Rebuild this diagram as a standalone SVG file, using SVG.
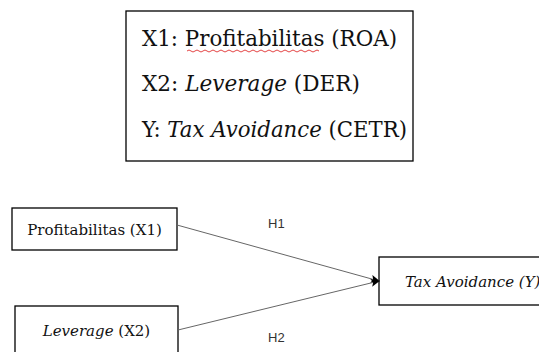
<svg xmlns="http://www.w3.org/2000/svg" width="539" height="352" viewBox="0 0 539 352">
<style>
.box{fill:#fff;stroke:#000;stroke-width:1.3}
.legend{font-family:"DejaVu Serif","Liberation Serif",serif;font-size:22px;fill:#111}
.node{font-family:"DejaVu Serif","Liberation Serif",serif;font-size:15px;fill:#111}
.lab{font-family:"Liberation Sans",Arial,sans-serif;font-size:13px;fill:#333}
.edge{stroke:#666;stroke-width:1;fill:none}
</style>
<defs>
<marker id="arr" markerWidth="9" markerHeight="8" refX="8" refY="4" orient="auto" markerUnits="userSpaceOnUse">
<path d="M0,0 L9,4 L0,8 L2,4 Z" fill="#000"/>
</marker>
</defs>
<g id="legend">
<rect class="box" x="126" y="11" width="287" height="150"/>
<text class="legend" x="142" y="46" textLength="255" lengthAdjust="spacingAndGlyphs">X1: Profitabilitas (ROA)</text>
<path d="M187,51 q2,-2 4,0 t4,0 t4,0 t4,0 t4,0 t4,0 t4,0 t4,0 t4,0 t4,0 t4,0 t4,0 t4,0 t4,0 t4,0 t4,0 t4,0 t4,0 t4,0 t4,0 t4,0 t4,0 t4,0 t4,0 t4,0 t4,0 t4,0 t4,0 t4,0 t4,0 t4,0 t4,0 t4,0" fill="none" stroke="#e03030" stroke-width="0.9"/>
<text class="legend" x="142" y="91" textLength="218" lengthAdjust="spacingAndGlyphs">X2: <tspan font-style="italic">Leverage</tspan> (DER)</text>
<text class="legend" x="142" y="137" textLength="265" lengthAdjust="spacingAndGlyphs">Y: <tspan font-style="italic">Tax Avoidance</tspan> (CETR)</text>
</g>
<g id="x1">
<rect class="box" x="12" y="208" width="165" height="42"/>
<text class="node" x="94.5" y="235" text-anchor="middle">Profitabilitas (X1)</text>
</g>
<g id="x2">
<rect class="box" x="15" y="306" width="163" height="50"/>
<text class="node" x="96.5" y="336" text-anchor="middle"><tspan font-style="italic">Leverage</tspan> (X2)</text>
</g>
<g id="y">
<rect class="box" x="379" y="257" width="170" height="48"/>
<text class="node" x="405" y="287" font-style="italic">Tax Avoidance (Y)</text>
</g>
<g id="connectors">
<line class="edge" x1="177" y1="225" x2="379" y2="281" marker-end="url(#arr)"/>
<line class="edge" x1="178" y1="330" x2="379" y2="281" marker-end="url(#arr)"/>
<text class="lab" x="268" y="228">H1</text>
<text class="lab" x="268" y="342">H2</text>
</g>
</svg>
